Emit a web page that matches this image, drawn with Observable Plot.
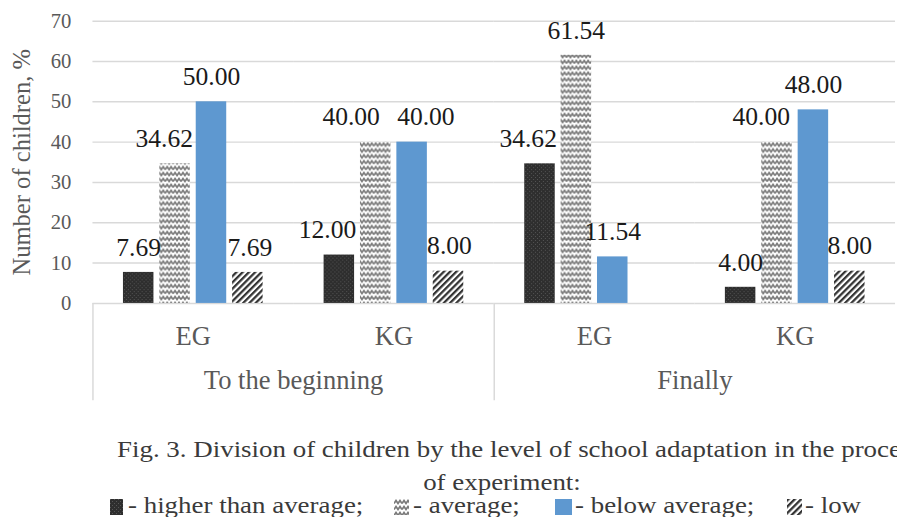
<!DOCTYPE html>
<html><head><meta charset="utf-8">
<script src="https://cdn.jsdelivr.net/npm/d3@7"></script>
<script src="https://cdn.jsdelivr.net/npm/@observablehq/plot@0.6"></script>
<style>
body{margin:0;background:#fff;}
#wrap{position:relative;width:897px;height:517px;overflow:hidden;font-family:"Liberation Serif","DejaVu Serif",serif;}
#chart{position:absolute;left:0;top:0;}
.cap{position:absolute;white-space:nowrap;color:#3a3a3a;font-size:23px;line-height:23px;}
.sw{position:absolute;top:499px;}
</style></head><body>
<div id="wrap"><div id="chart"></div>
<div class="cap" style="left:117px;top:438px;transform:scaleX(1.17);transform-origin:0 0;">Fig. 3. Division of children by the level of school adaptation in the process</div>
<div class="cap" style="left:502px;top:471px;transform:translateX(-50%) scaleX(1.17);">of experiment:</div>
<div id="legend"></div>
</div>
<script>
const periods = ["To the beginning", "Finally"];
const groups = ["EG", "KG"];
const series = ["higher than average", "average", "below average", "low"];
const beginEG = [7.69, 34.62, 50.00, 7.69];
const beginKG = [12.00, 40.00, 40.00, 8.00];
const finalEG = [34.62, 61.54, 11.54, 0];
const finalKG = [4.00, 40.00, 48.00, 8.00];
const yTicks = [0, 10, 20, 30, 40, 50, 60, 70];
const yTitle = "Number of children, %";
// small horizontal nudges of the value labels (as in the original)
const labelShift = [[0, -11, 0, 2], [-12, -25, 14, 1], [-12, 0, 0, 0], [0, -16, 0, 0]];

const fills = ["url(#pHigh)", "url(#pAvg)", "#5e98d0", "url(#pLow)"];
const legendNames = ["- higher than average;", "- average;", "- below average;", "- low"];
const swatchLeft = [110, 394, 555, 787];
const swatchWidth = [13, 15, 17, 15];
const legendTextLeft = [128, 413, 575, 805];
const FONT = "'Liberation Serif', 'DejaVu Serif', serif";

const tables = [beginEG, beginKG, finalEG, finalKG];
const keys = [];
const rows = [];
periods.forEach((p, i) => groups.forEach((g, j) => {
  const k = p + "|" + g;
  keys.push(k);
  tables[i * 2 + j].forEach((v, s) => rows.push({key: k, series: series[s], value: v, shift: labelShift[i * 2 + j][s]}));
}));
const labelRows = rows.filter(d => d.value > 0);
const shifts = d3.groups(labelRows, d => d.shift);

const chart = Plot.plot({
  width: 912, height: 412,
  marginLeft: 94, marginRight: 2, marginTop: 21, marginBottom: 104,
  style: {fontFamily: FONT, background: "transparent"},
  fx: {domain: keys, padding: 0, round: false},
  x: {domain: series, paddingInner: 0.162, paddingOuter: 0.838, axis: null, round: false},
  y: {domain: [0, 70]},
  color: {domain: series, range: fills},
  marks: [
    Plot.gridY(yTicks, {stroke: "#d9d9d9", strokeOpacity: 1, strokeWidth: 1.5}),
    Plot.barY(rows, {fx: "key", x: "series", y: "value", fill: "series"}),
    ...shifts.map(([dx, rs]) => Plot.text(rs, {fx: "key", x: "series", y: "value", text: d => d.value.toFixed(2), dx, dy: -17, lineAnchor: "bottom", fontSize: 26, fill: "#1a1a1a"})),
    Plot.axisY({ticks: yTicks, tickSize: 0, tickPadding: 22, fontSize: 21, color: "#595959", label: null}),
    Plot.text([yTitle], {text: d => d, frameAnchor: "left", textAnchor: "middle", lineAnchor: "middle", rotate: -90, dx: -72, fontSize: 25, fill: "#595959", facetAnchor: "left"}),
    Plot.axisFx({anchor: "bottom", tickFormat: d => d.split("|")[1], tickSize: 0, tickPadding: 23, fontSize: 27, color: "#595959", label: null}),
    Plot.axisFx({anchor: "bottom", ticks: [keys[0], keys[2]], tickFormat: d => d.split("|")[0], dx: 102, tickSize: 0, tickPadding: 68, fontSize: 27, color: "#595959", label: null}),
    Plot.axisFx({anchor: "bottom", ticks: [keys[0], keys[2]], tickFormat: () => "", dx: -102, tickSize: 99, stroke: "#d9d9d9", strokeWidth: 1.5, label: null})
  ]
});

const defs = `<defs>
<pattern id="pHigh" width="4" height="4" patternUnits="userSpaceOnUse"><rect width="4" height="4" fill="#2e2e2e"/><rect x="0" y="0" width="1" height="1" fill="#555"/><rect x="2" y="2" width="1" height="1" fill="#555"/></pattern>
<pattern id="pAvg" width="8" height="6" patternUnits="userSpaceOnUse"><rect width="8" height="6" fill="#fff"/><path d="M0,4.5 L2,1.5 L4,4.5 L6,1.5 L8,4.5" fill="none" stroke="#7a7a7a" stroke-width="1.7"/></pattern>
<pattern id="pLow" width="4.5" height="4.5" patternUnits="userSpaceOnUse" patternTransform="rotate(45)"><rect width="4.5" height="4.5" fill="#fff"/><rect width="2.3" height="4.5" fill="#333"/></pattern>
</defs>`;
chart.insertAdjacentHTML("afterbegin", defs);
document.getElementById("chart").appendChild(chart);

const lg = document.getElementById("legend");
series.forEach((s, i) => {
  const sw = document.createElementNS("http://www.w3.org/2000/svg", "svg");
  sw.setAttribute("class", "sw");
  sw.setAttribute("width", swatchWidth[i]);
  sw.setAttribute("height", 16);
  sw.style.left = swatchLeft[i] + "px";
  sw.innerHTML = `<rect width="${swatchWidth[i]}" height="16" fill="${fills[i]}"/>`;
  lg.appendChild(sw);
  const t = document.createElement("div");
  t.className = "cap";
  t.style.left = legendTextLeft[i] + "px";
  t.style.top = "494px";
  t.style.transform = "scaleX(1.17)";
  t.style.transformOrigin = "0 0";
  t.textContent = legendNames[i];
  lg.appendChild(t);
});
</script>
</body></html>
